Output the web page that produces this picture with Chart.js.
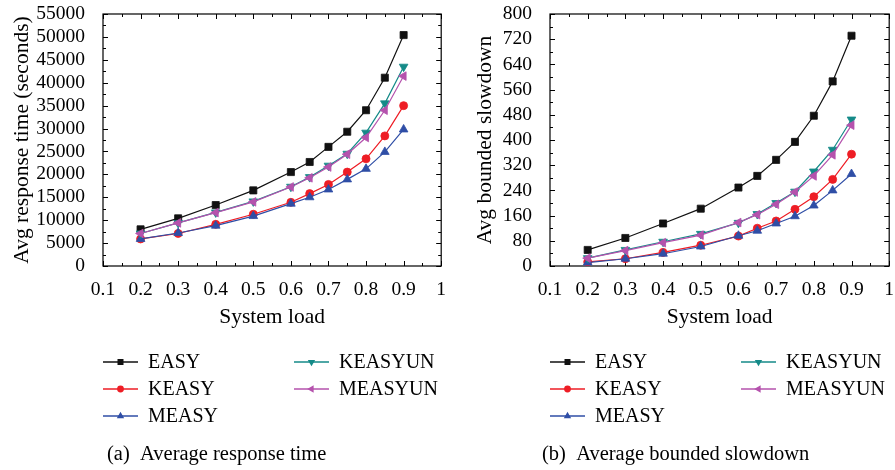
<!DOCTYPE html>
<html>
<head>
<meta charset="utf-8">
<script src="https://cdn.jsdelivr.net/npm/chart.js@4.4.0/dist/chart.umd.min.js"></script>
<style>
  html, body { margin: 0; padding: 0; background: #fff; }
  #wrap { position: relative; width: 895px; height: 470px; }
  canvas { position: absolute; top: 0; }
  #respChart { left: 0; }
  #sldChart { left: 447px; }
</style>
</head>
<body>
<div id="wrap">
  <canvas id="respChart" width="447" height="470"></canvas>
  <canvas id="sldChart" width="448" height="470"></canvas>
</div>
<script>
// system load values shared by both panels
const loads = [0.2, 0.3, 0.4, 0.5, 0.6, 0.65, 0.7, 0.75, 0.8, 0.85, 0.9];
const xTickVals = [0.1, 0.2, 0.3, 0.4, 0.5, 0.6, 0.7, 0.8, 0.9, 1];
const xTickLabels = ['0.1', '0.2', '0.3', '0.4', '0.5', '0.6', '0.7', '0.8', '0.9', '1'];

// (a) average response time, seconds
const respEasy     = [8000, 10400, 13300, 16500, 20500, 22700, 26000, 29300, 34000, 41100, 50400];
const respKeasy    = [5900, 7100, 9100, 11300, 13900, 15800, 17800, 20500, 23400, 28400, 35000];
const respMeasy    = [5900, 7200, 8800, 10900, 13600, 15000, 16700, 18900, 21200, 24900, 29800];
const respKeasyun  = [7100, 9400, 11700, 14100, 17300, 19400, 21900, 24500, 29100, 35500, 43500];
const respMeasyun  = [7100, 9400, 11650, 14000, 17250, 19250, 21600, 24400, 28050, 34000, 41450];
const respYTicks   = [0, 5000, 10000, 15000, 20000, 25000, 30000, 35000, 40000, 45000, 50000, 55000];

// (b) average bounded slowdown
const sldEasy      = [51, 89, 135, 182, 249, 286, 337, 394, 477, 586, 731];
const sldKeasy     = [13, 23, 43, 66, 95, 120, 143, 180, 220, 275, 355];
const sldMeasy     = [11, 23, 39, 62, 96, 112, 135, 158, 192, 240, 292];
const sldKeasyun   = [25, 51, 77, 102, 137, 165, 200, 236, 300, 369, 465];
const sldMeasyun   = [25, 49, 74, 98, 138, 163, 196, 235, 286, 353, 447];
const sldYTicks    = [0, 80, 160, 240, 320, 400, 480, 560, 640, 720, 800];

const seriesNames = ['EASY', 'KEASY', 'MEASY', 'KEASYUN', 'MEASYUN'];

const SERIF = '"Liberation Serif", "Times New Roman", serif';
Chart.defaults.font.family = SERIF;
Chart.defaults.color = '#000';

const styles = [
  { color: '#111111', pointStyle: 'rect', radius: 5, rotation: 0 },
  { color: '#ee1d25', pointStyle: 'circle', radius: 4, rotation: 0 },
  { color: '#2f4ea6', pointStyle: 'triangle', radius: 5, rotation: 0 },
  { color: '#148a88', pointStyle: 'triangle', radius: 5, rotation: 180 },
  { color: '#b552ad', pointStyle: 'triangle', radius: 5, rotation: -90 }
];

function makeDatasets(series) {
  return series.map((vals, i) => ({
    label: seriesNames[i],
    data: vals.map((v, j) => ({ x: loads[j], y: v })),
    borderColor: styles[i].color,
    backgroundColor: styles[i].color,
    borderWidth: 1.2,
    pointStyle: styles[i].pointStyle,
    pointRotation: styles[i].rotation,
    pointRadius: styles[i].radius,
    pointBorderWidth: 0.8,
    tension: 0,
    order: 5 - i
  }));
}

// box around the plot plus inward major/minor ticks on all four sides
const frame = {
  id: 'frame',
  beforeDatasetsDraw(chart) {
    const { ctx, chartArea: a, scales } = chart;
    ctx.save();
    ctx.strokeStyle = '#000';
    ctx.lineWidth = 1.2;
    ctx.strokeRect(a.left, a.top, a.right - a.left, a.bottom - a.top);
    ctx.lineWidth = 1;
    ctx.beginPath();
    const xt = scales.x.ticks.map(t => t.value);
    const yt = scales.y.ticks.map(t => t.value);
    const withMinor = vals => {
      const out = [];
      vals.forEach((v, i) => {
        out.push([v, 5]);
        if (i < vals.length - 1) out.push([(v + vals[i + 1]) / 2, 3]);
      });
      return out;
    };
    withMinor(xt).forEach(([v, len]) => {
      const px = Math.round(scales.x.getPixelForValue(v)) + 0.5;
      ctx.moveTo(px, a.bottom); ctx.lineTo(px, a.bottom - len);
      ctx.moveTo(px, a.top); ctx.lineTo(px, a.top + len);
    });
    withMinor(yt).forEach(([v, len]) => {
      const py = Math.round(scales.y.getPixelForValue(v)) + 0.5;
      ctx.moveTo(a.left, py); ctx.lineTo(a.left + len, py);
      ctx.moveTo(a.right, py); ctx.lineTo(a.right - len, py);
    });
    ctx.stroke();
    ctx.restore();
  }
};

// two-column legend and sub-caption under each panel
const legendSpots = [[0, 0], [0, 1], [0, 2], [1, 0], [1, 1]];
const bottomText = {
  id: 'bottomText',
  afterDraw(chart, args, opts) {
    const { ctx } = chart;
    ctx.save();
    ctx.font = '20px ' + SERIF;
    ctx.textBaseline = 'middle';
    ctx.fillStyle = '#000';
    chart.data.datasets.forEach((ds, i) => {
      const [col, row] = legendSpots[i];
      const x0 = opts.legendX[col];
      const y = opts.legendY + row * 27;
      ctx.strokeStyle = ds.borderColor;
      ctx.lineWidth = 1.4;
      ctx.beginPath();
      ctx.moveTo(x0, y); ctx.lineTo(x0 + 35, y);
      ctx.stroke();
      ctx.fillStyle = ds.borderColor;
      Chart.helpers.drawPoint(ctx, {
        pointStyle: ds.pointStyle, rotation: ds.pointRotation,
        radius: ds.pointRadius * 0.85, borderWidth: 0
      }, x0 + 17.5, y);
      ctx.fillStyle = '#000';
      ctx.fillText(ds.label, x0 + 45, y + 1);
    });
    ctx.font = '20.5px ' + SERIF;
    ctx.fillText(opts.caption, opts.captionX, 455);
    ctx.restore();
  }
};

function makeChart(id, series, yTicks, yTitle, titlePad, rightPad, caption, captionX) {
  return new Chart(document.getElementById(id), {
    type: 'line',
    data: { datasets: makeDatasets(series) },
    plugins: [frame, bottomText],
    options: {
      responsive: false,
      animation: false,
      layout: { padding: { left: 0, right: rightPad, top: 14, bottom: 140 } },
      plugins: {
        legend: { display: false },
        tooltip: { enabled: false },
        bottomText: { legendX: [103, 294], legendY: 362, caption: caption, captionX: captionX }
      },
      scales: {
        x: {
          type: 'linear',
          min: 0.1, max: 1,
          afterBuildTicks: s => { s.ticks = xTickVals.map(v => ({ value: v })); },
          afterFit: s => { s.height = 64; s.paddingLeft = 0; s.paddingRight = 0; },
          grid: { display: false },
          border: { display: false },
          ticks: {
            padding: 4,
            autoSkip: false,
            font: { size: 19.5 },
            maxRotation: 0,
            callback: (v, i) => xTickLabels[i]
          },
          title: {
            display: true, text: 'System load',
            font: { size: 21.5, lineHeight: 1.2 },
            padding: { top: 0, bottom: 0 }
          }
        },
        y: {
          type: 'linear',
          min: yTicks[0], max: yTicks[yTicks.length - 1],
          afterBuildTicks: s => { s.ticks = yTicks.map(v => ({ value: v })); },
          afterFit: s => { s.width = 103; s.paddingTop = 0; s.paddingBottom = 0; },
          grid: { display: false },
          border: { display: false },
          ticks: {
            padding: 10,
            autoSkip: false,
            font: { size: 19.5 },
            callback: v => String(v)
          },
          title: {
            display: true, text: yTitle,
            font: { size: 21.5, lineHeight: 1.2 },
            padding: { top: titlePad, bottom: 0 }
          }
        }
      }
    }
  });
}

makeChart('respChart',
  [respEasy, respKeasy, respMeasy, respKeasyun, respMeasyun],
  respYTicks, 'Avg response time (seconds)', 9, 3,
  '(a)  Average response time', 107);

makeChart('sldChart',
  [sldEasy, sldKeasy, sldMeasy, sldKeasyun, sldMeasyun],
  sldYTicks, 'Avg bounded slowdown', 25, 4,
  '(b)  Average bounded slowdown', 95);
</script>
</body>
</html>
